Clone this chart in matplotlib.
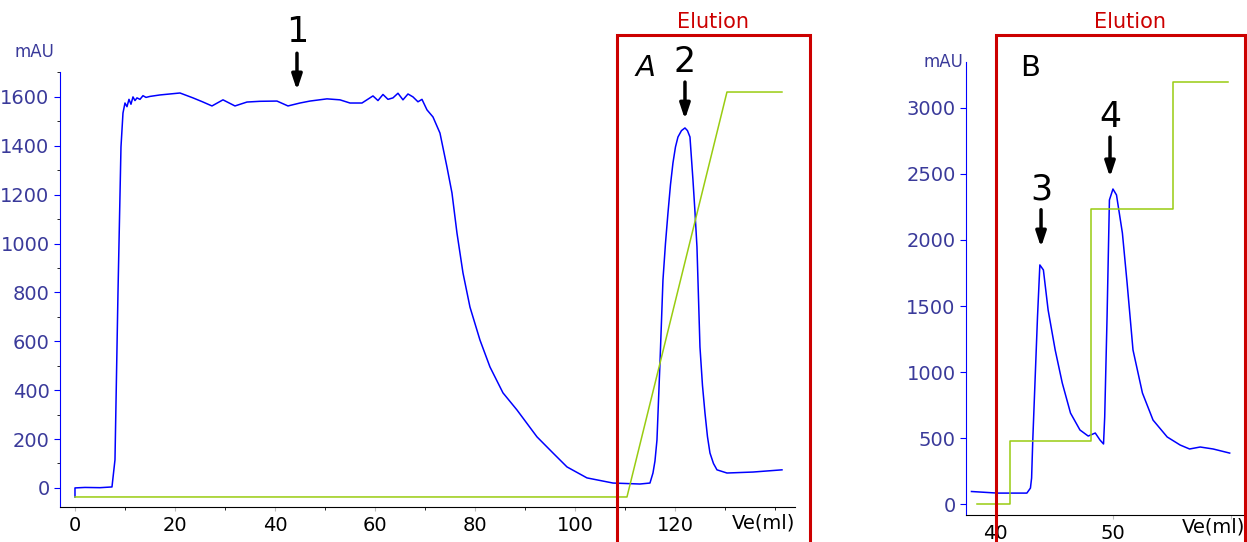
import numpy as np
import matplotlib
matplotlib.use("Agg")
from matplotlib import pyplot as plt
from matplotlib.patches import Rectangle

# Panel A - loading + gradient elution
ve_a = [0.0, 0.0, 2.0, 5.0, 7.4, 8.0, 8.6, 9.2, 9.6, 10.0, 10.4, 10.8, 11.2, 11.6, 12.0,
        12.4, 13.0, 13.6, 14.2, 15.0, 17.0, 19.0, 21.0, 23.6, 25.5, 27.4, 29.6, 32.0,
        34.4, 37.0, 40.4, 42.6, 45.0, 47.0, 50.4, 53.0, 55.0, 57.4, 59.6, 60.6, 61.6,
        62.6, 63.6, 64.6, 65.6, 66.6, 67.6, 68.6, 69.4, 70.4, 71.6, 73.0, 74.4, 75.4,
        76.4, 77.6, 79.0, 81.0, 83.0, 85.6, 88.4, 92.4, 95.6, 98.4, 102.4, 107.6, 113.0,
        115.0, 115.6, 116.0, 116.4, 117.0, 117.6, 118.1, 118.6, 119.1, 119.6, 120.1,
        120.6, 121.3, 122.0, 122.5, 123.0, 123.6, 124.0, 124.4, 125.0, 125.5, 126.0,
        126.5, 127.0, 127.7, 128.4, 130.4, 135.6, 141.4]
mau_a = [-37, 0, 2, 1, 4, 115, 798, 1395, 1534, 1575, 1560, 1590, 1570, 1600, 1585,
         1596, 1590, 1605, 1598, 1602, 1608, 1612, 1616, 1596, 1580, 1563, 1588, 1563,
         1579, 1582, 1583, 1563, 1575, 1583, 1592, 1588, 1575, 1575, 1604, 1585, 1610,
         1590, 1596, 1615, 1588, 1612, 1600, 1580, 1590, 1547, 1518, 1452, 1313, 1207,
         1043, 880, 740, 605, 495, 389, 319, 209, 143, 86, 41, 20, 16,
         20, 61, 110, 196, 511, 851, 1000, 1125, 1240, 1330, 1395,
         1436, 1462, 1473, 1462, 1436, 1260, 1130, 986, 577, 420, 307,
         210, 143, 100, 74, 61, 65, 74]
grad_ve_a = [0, 110.4, 130.4, 141.4]
grad_a = [-37, -37, 1620, 1620]

# Panel B - step elution
ve_b = [38.0, 40.2, 42.7, 43.0, 43.1, 43.2, 43.6, 43.8, 44.1, 44.5, 45.1, 45.7, 46.4,
        47.2, 47.9, 48.5, 48.9, 49.2, 49.3, 49.5, 49.7, 50.0, 50.3, 50.8, 51.2, 51.7,
        52.5, 53.4, 54.6, 55.7, 56.5, 57.4, 58.5, 59.9]
mau_b = [95, 83, 83, 121, 197, 485, 1417, 1811, 1773, 1470, 1167, 917, 689,
         561, 515, 538, 485, 455, 659, 1417, 2303, 2386, 2341, 2053, 1674, 1167,
         841, 636, 508, 447, 417, 432, 417, 386]
step_ve_b = [38.5, 41.3, 41.3, 48.1, 48.1, 55.1, 55.1, 59.8]
step_b = [0, 0, 477, 477, 2235, 2235, 3197, 3197]

BLUE = "#0000ff"
GREEN = "#99cc11"
RED = "#cc0000"
TICKC = "#3a3a9a"

fig = plt.figure(figsize=(12.47, 5.42), dpi=100)


def style(ax):
    for s in ["top", "right"]:
        ax.spines[s].set_visible(False)
    ax.spines["left"].set_color(BLUE)
    ax.spines["bottom"].set_color("black")
    ax.tick_params(axis="y", colors=BLUE, labelcolor=TICKC, labelsize=14, length=4)
    ax.tick_params(axis="x", colors="#bbbbbb", labelcolor="black", labelsize=14, length=3)
    ax.tick_params(which="minor", length=2)


# ---- A
ax1 = fig.add_axes([0.0481, 0.0646, 0.5894, 0.8026])
ax1.plot(ve_a, mau_a, color=BLUE, lw=1.1)
ax1.plot(grad_ve_a, grad_a, color=GREEN, lw=1.1)
ax1.set_xlim(-3, 144)
ax1.set_ylim(-78, 1702)
ax1.set_xticks(range(0, 121, 20))
ax1.set_xticks(range(0, 141, 10), minor=True)
ax1.set_yticks(range(0, 1601, 200))
ax1.set_yticks(range(0, 1701, 100), minor=True)
style(ax1)
ax1.text(1.0, -0.036, "Ve(ml)", transform=ax1.transAxes, ha="right", va="center", fontsize=14)
ax1.text(-0.007, 1.046, "mAU", transform=ax1.transAxes, ha="right", va="center",
         fontsize=12, color=TICKC)

arrow = dict(arrowstyle="-|>,head_width=0.3,head_length=0.9", lw=2.5, color="black")
ax1.annotate("", xy=(44.4, 1616), xytext=(44.4, 1790), arrowprops=arrow,
             annotation_clip=False)
ax1.text(44.4, 1795, "1", ha="center", va="bottom", fontsize=25, clip_on=False)
ax1.annotate("", xy=(122, 1497), xytext=(122, 1672), arrowprops=arrow,
             annotation_clip=False)
ax1.text(122, 1675, "2", ha="center", va="bottom", fontsize=25, clip_on=False)

# ---- B
ax2 = fig.add_axes([0.7747, 0.0498, 0.2237, 0.8358])
ax2.plot(ve_b, mau_b, color=BLUE, lw=1.1)
ax2.plot(step_ve_b, step_b, color=GREEN, lw=1.1)
ax2.set_xlim(37.54, 61.2)
ax2.set_ylim(-83, 3348)
ax2.set_xticks([40, 50, 60])
ax2.set_xticklabels(["40", "50", ""])
ax2.set_yticks(range(0, 3001, 500))
style(ax2)
ax2.text(1.0, -0.026, "Ve(ml)", transform=ax2.transAxes, ha="right", va="center", fontsize=14)
ax2.text(-0.01, 1.0, "mAU", transform=ax2.transAxes, ha="right", va="center",
         fontsize=12, color=TICKC)
ax2.annotate("", xy=(43.9, 1924), xytext=(43.9, 2250), arrowprops=arrow)
ax2.text(43.9, 2255, "3", ha="center", va="bottom", fontsize=25)
ax2.annotate("", xy=(49.75, 2455), xytext=(49.75, 2800), arrowprops=arrow)
ax2.text(49.75, 2805, "4", ha="center", va="bottom", fontsize=25)

# ---- elution boxes (figure pixel coords -> fractions)
W, H = 1247.0, 542.0
fig.patches.append(Rectangle((617 / W, -0.05), (810 - 617) / W, 1.05 - 35 / H,
                             transform=fig.transFigure, fill=False, ec=RED, lw=2.2))
fig.patches.append(Rectangle((996 / W, -0.05), 0.2, 1.05 - 35 / H,
                             transform=fig.transFigure, fill=False, ec=RED, lw=2.2))
fig.text(713 / W, 1 - 22 / H, "Elution", color=RED, ha="center", va="center", fontsize=15)
fig.text(1130 / W, 1 - 22 / H, "Elution", color=RED, ha="center", va="center", fontsize=15)
fig.text(645 / W, 1 - 68 / H, "A", ha="center", va="center", fontsize=21, style="italic")
fig.text(1030 / W, 1 - 68 / H, "B", ha="center", va="center", fontsize=21)

fig.savefig("out.png", dpi=100)
